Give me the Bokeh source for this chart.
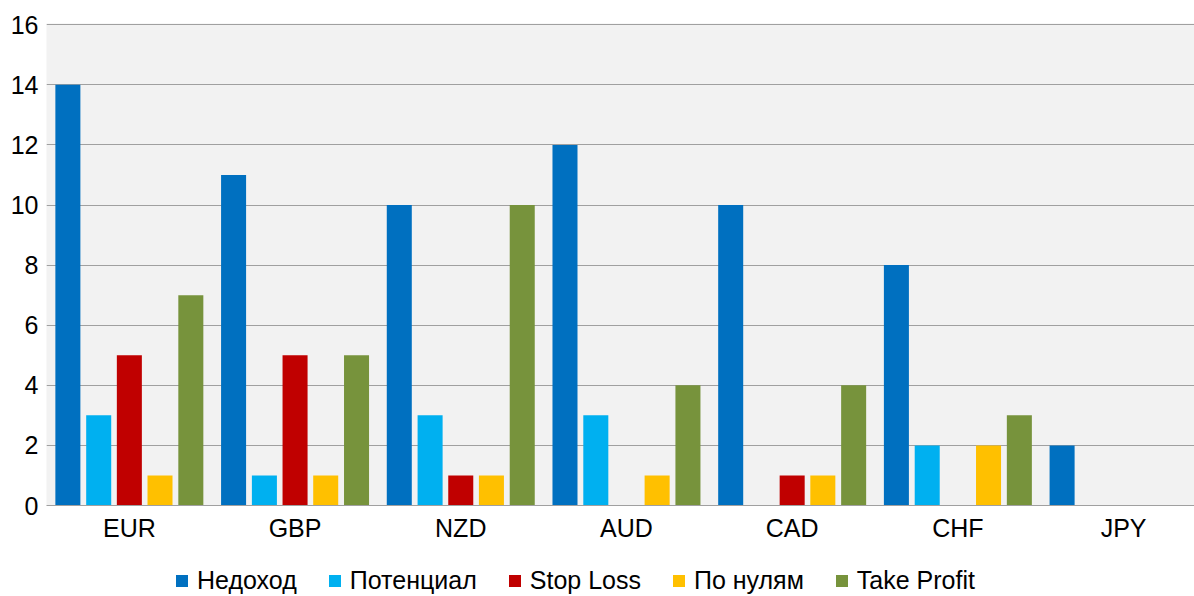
from bokeh.plotting import figure
from bokeh.models import ColumnDataSource, Legend, LegendItem, FixedTicker, Range1d
from bokeh.layouts import column
from bokeh.transform import dodge
from bokeh.embed import file_html
from bokeh.resources import INLINE

categories = ["EUR", "GBP", "NZD", "AUD", "CAD", "CHF", "JPY"]
nedohod = [14, 11, 10, 12, 10, 8, 2]
potencial = [3, 1, 3, 3, 0, 2, 0]
stop_loss = [5, 5, 1, 0, 1, 0, 0]
po_nulyam = [1, 1, 1, 1, 1, 2, 0]
take_profit = [7, 5, 10, 4, 4, 3, 0]
series_names = ["Недоход", "Потенциал", "Stop Loss", "По нулям", "Take Profit"]
series_colors = ["#0070c0", "#00b0f0", "#c00000", "#ffc000", "#77933c"]
y_ticks = [0, 2, 4, 6, 8, 10, 12, 14, 16]

cat_pos = [i + 0.5 for i in range(len(categories))]
source = ColumnDataSource(dict(cat=categories, pos=cat_pos, s0=nedohod, s1=potencial,
                               s2=stop_loss, s3=po_nulyam, s4=take_profit))

FONT = "Liberation Sans"
W = 1194
p = figure(x_range=Range1d(0, 6.928), y_range=Range1d(0, 16.04),
           width=W, height=550, output_backend="svg", toolbar_location=None,
           min_border_left=46, min_border_right=0, min_border_top=23, min_border_bottom=45)
p.background_fill_color = "#f2f2f2"
p.border_fill_color = "white"
p.outline_line_color = None

offsets = [-0.371, -0.185, 0.0, 0.185, 0.371]
keys = ["s0", "s1", "s2", "s3", "s4"]
renderers = []
for k, off, col in zip(keys, offsets, series_colors):
    r = p.vbar(x=dodge("pos", off), top=k, width=0.151, source=source,
               fill_color=col, line_color=None)
    renderers.append(r)

p.xgrid.grid_line_color = None
p.ygrid.grid_line_color = "#a0a0a0"
p.ygrid.grid_line_width = 1
p.yaxis.ticker = FixedTicker(ticks=y_ticks)
p.yaxis.axis_line_color = None
p.yaxis.major_tick_line_color = None
p.yaxis.major_tick_out = 0
p.yaxis.minor_tick_line_color = None
p.yaxis.major_label_standoff = 8
p.xaxis.ticker = FixedTicker(ticks=cat_pos)
p.xaxis.major_label_overrides = {pos: c for pos, c in zip(cat_pos, categories)}
p.xaxis.axis_line_color = "#a0a0a0"
p.xaxis.major_tick_line_color = None
p.xaxis.major_tick_out = 0
p.xaxis.minor_tick_line_color = None
p.xaxis.major_label_standoff = 8
for ax in (p.xaxis, p.yaxis):
    ax.major_label_text_font = FONT
    ax.major_label_text_font_size = "25px"
    ax.major_label_text_color = "black"

# legend panel below the chart
lg = figure(width=W, height=46, output_backend="svg", toolbar_location=None,
            x_range=Range1d(0, 1), y_range=Range1d(0, 1),
            min_border_left=0, min_border_right=0, min_border_top=0, min_border_bottom=0)
lg.axis.visible = False
lg.grid.visible = False
lg.outline_line_color = None
lg_renderers = []
for col in series_colors:
    r = lg.vbar(x=[-10], top=[0], width=0.1, fill_color=col, line_color=None)
    lg_renderers.append(r)
items = [LegendItem(label=n, renderers=[r]) for n, r in zip(series_names, lg_renderers)]
legend = Legend(items=items, orientation="horizontal", location=(128, 1),
                label_text_font=FONT, label_text_font_size="25px", label_text_color="black",
                glyph_width=15, glyph_height=15, label_standoff=8, spacing=30,
                border_line_color=None, background_fill_alpha=0, padding=0, margin=0)
lg.add_layout(legend, "center")

layout = column(p, lg, spacing=0)
open("out.html", "w").write(file_html(layout, INLINE))
